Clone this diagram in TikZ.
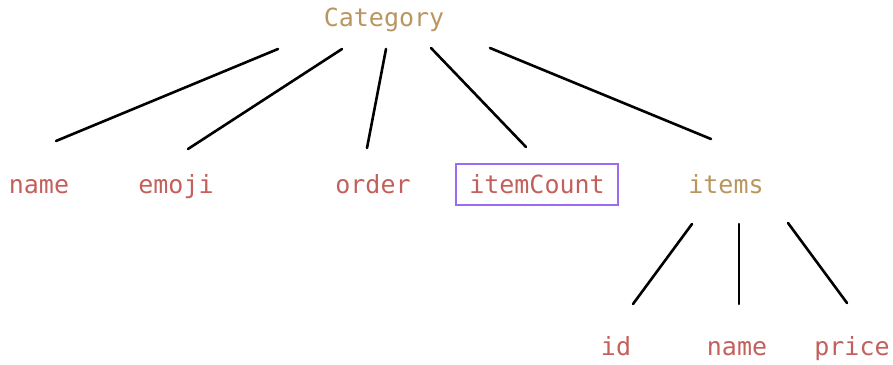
\documentclass[tikz,border=0pt]{standalone}
\usepackage{fontspec}
\setmonofont{DejaVu Sans Mono}
\definecolor{objcol}{HTML}{B9965F}
\definecolor{fieldcol}{HTML}{C4605C}
\definecolor{markcol}{HTML}{9B6BF2}
\tikzset{
  field/.style={anchor=base, inner sep=0pt, text=fieldcol,
    font=\ttfamily\fontsize{25}{25}\selectfont},
  object/.style={field, text=objcol},
  marked/.style={field, draw=markcol, line width=2.3pt,
    text height=28.7pt, text depth=12pt, minimum width=162pt},
  edge/.style={line width=2.6pt, line cap=round}
}
\begin{document}
\begin{tikzpicture}[x=1pt, y=-1pt]
  \useasboundingbox (0,0) rectangle (893,364);
  \draw
    (384,27) node[object] (cat){Category}
    (39,193) node[field] (name){name}
    (176,193) node[field] (emoji){emoji}
    (373,193) node[field] (order){order}
    (537,193) node[marked] (count){itemCount}
    (726,193) node[object] (items){items}
    (616,355) node[field] (id){id}
    (737,355) node[field] (iname){name}
    (852,355) node[field] (price){price};
  \begin{scope}[edge]
    \draw ([shift={(-106,22)}]cat.base) to ([shift={(17,-52)}]name.base);
    \draw ([shift={(-42,22)}]cat.base) to ([shift={(12,-44)}]emoji.base);
    \draw ([shift={(2,22)}]cat.base) to ([shift={(-6,-45)}]order.base);
    \draw ([shift={(47,21)}]cat.base) to ([shift={(-11,-46)}]count.base);
    \draw ([shift={(106,21)}]cat.base) to ([shift={(-15,-54)}]items.base);
    \draw ([shift={(-34,31)}]items.base) to ([shift={(17,-51)}]id.base);
    \draw ([shift={(13,31)}]items.base) to ([shift={(2,-51)}]iname.base);
    \draw ([shift={(62,30)}]items.base) to ([shift={(-5,-52)}]price.base);
  \end{scope}
\end{tikzpicture}
\end{document}
